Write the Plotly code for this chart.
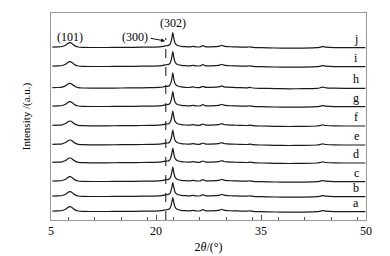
import plotly.graph_objects as go

# Sample names (bottom to top) and their vertical stacking offsets (a.u.)
samples = ["a", "b", "c", "d", "e", "f", "g", "h", "i", "j"]
offsets = [8.3, 23.3, 38.3, 57, 75, 94, 113.3, 131.7, 153.3, 172.3]
peak302 = [14, 14, 14.5, 15, 15, 15, 15, 15.5, 15, 15]

# Shared XRD profile (2theta in degrees, intensity a.u.)
two_theta = [5.2, 6.0, 6.6, 7.0, 7.3, 7.55, 7.75, 7.95, 8.2, 8.5, 8.9, 9.5, 11, 13, 15, 17,
             19, 20.5, 21.0, 21.3, 21.6, 21.9, 22.1, 22.25, 22.4, 22.55, 22.7, 22.9, 23.2,
             23.6, 24.2, 24.8, 25.3, 25.7, 26.3, 26.7, 27.1, 27.8, 28.6, 29.1, 29.4, 29.7,
             30.2, 31.0, 32.0, 33.0, 33.4, 33.9, 35, 37, 39, 41, 43.0, 43.5, 43.8, 44.3,
             45.5, 47, 49.9]
profile = [0.6, 0.8, 1.2, 2.2, 3.6, 4.8, 5.0, 4.4, 3.0, 1.6, 0.7, 0.3, 0.2, 0.2, 0.3, 0.4,
           0.6, 0.9, 1.3, 1.9, 2.0, 2.6, 5.0, 9.0, 1.0, 9.0, 5.0, 3.0, 2.0,
           1.4, 1.0, 0.8, 1.4, 0.8, 0.9, 2.0, 0.9, 0.9, 1.1, 1.6, 2.4, 1.5,
           1.1, 0.9, 0.6, 0.5, 0.9, 0.3, 0.0, -0.3, -0.5, -0.4, 0.0, 0.6, 1.1, 0.5,
           0.1, 0.0, 0.0]
peak_index = 24  # position of the (302) maximum in the profile

x_ticks = [5, 20, 35, 50]

fig = go.Figure()
for name, off, h in zip(samples, offsets, peak302):
    ys = [off + (h if i == peak_index else v) for i, v in enumerate(profile)]
    fig.add_trace(go.Scatter(x=two_theta, y=ys, mode="lines",
                             line=dict(color="#1a1a1a", width=1.2, shape="spline", smoothing=0.6),
                             showlegend=False, hoverinfo="skip"))
    fig.add_annotation(x=48.6, y=off, text=name, showarrow=False, xanchor="center",
                       yanchor="bottom", yshift=0,
                       font=dict(family="Liberation Serif", size=12, color="black"))

# dashed reference line for (300)
fig.add_shape(type="line", x0=21.4, x1=21.4, y0=0, y1=182, xref="x", yref="y",
              line=dict(color="#111", width=1, dash="dash"))

serif = dict(family="Liberation Serif", size=12, color="black")
fig.add_annotation(x=7.7, y=183, text="(101)", showarrow=False, font=serif)
fig.add_annotation(x=22.4, y=197, text="(302)", showarrow=False, font=serif)
fig.add_annotation(x=17.0, y=183, text="(300)", showarrow=False, font=serif)
fig.add_annotation(x=21.3, y=179, ax=-16, ay=-3, text="", showarrow=True,
                   arrowhead=2, arrowsize=0.8, arrowwidth=1, arrowcolor="#111")

fig.update_layout(
    width=390, height=256,
    margin=dict(l=43, r=32, t=5, b=44),
    paper_bgcolor="white", plot_bgcolor="white",
    xaxis=dict(range=[5, 50], tickvals=x_ticks, ticks="inside", ticklen=5, tickwidth=1,
               tickcolor="#555", showline=True, linecolor="#999", linewidth=1, mirror=True,
               showgrid=False, zeroline=False, tickfont=serif, automargin=False,
               minor=dict(dtick=3.75, ticks="inside", ticklen=3, tickcolor="#555", showgrid=False),
               title=dict(text="2<i>θ</i>/(°)", font=serif, standoff=5)),
    yaxis=dict(range=[0, 207], showticklabels=False, ticks="", showline=True, linecolor="#999",
               linewidth=1, mirror=True, showgrid=False, zeroline=False, automargin=False,
               title=dict(text="Intensity /(a.u.)", font=dict(family="Liberation Serif", size=11, color="black"),
                          standoff=17)),
)

fig.write_html("out.html")
